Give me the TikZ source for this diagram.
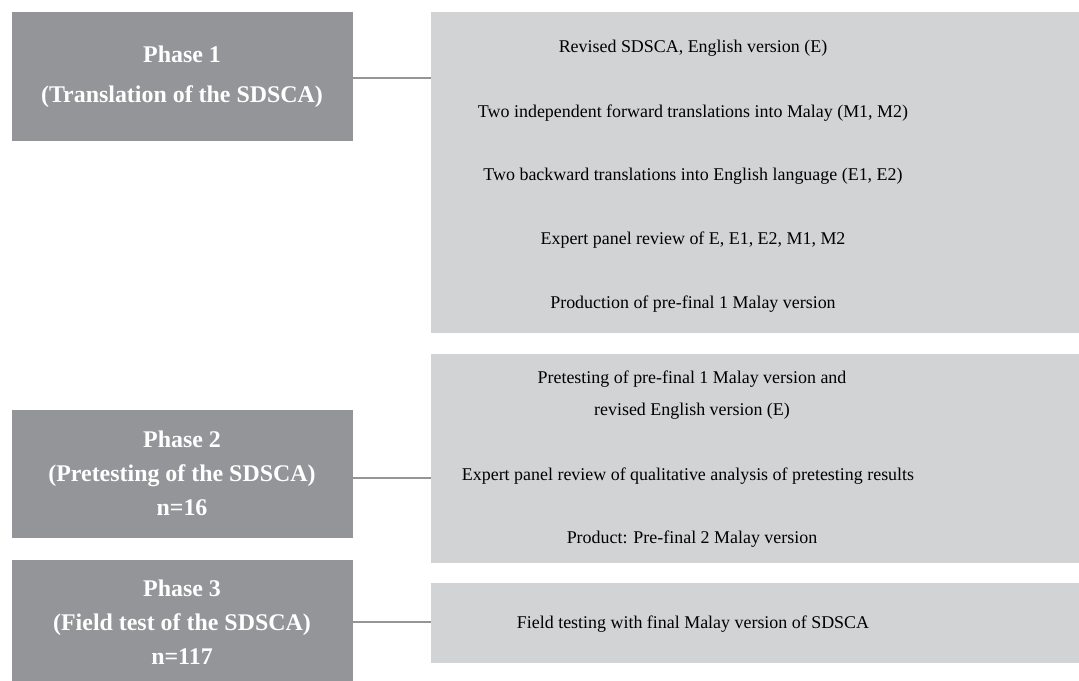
\documentclass[tikz,border=0pt]{standalone}
\usepackage{fontspec}
\setmainfont{Liberation Serif}
\definecolor{darkbox}{HTML}{939598}
\definecolor{lightbox}{HTML}{D1D3D4}
\definecolor{linkgray}{HTML}{939598}
\begin{document}
\begin{tikzpicture}[x=1bp,y=-1bp,
  phasebox/.style={fill=darkbox,draw=none,inner sep=0pt,anchor=north west},
  stepbox/.style={fill=lightbox,draw=none,inner sep=0pt,anchor=north west},
  phasetext/.style={text=white,font=\fontsize{24}{28}\selectfont\bfseries,anchor=mid,inner sep=0pt},
  steptext/.style={text=black,font=\fontsize{18}{22}\selectfont,anchor=mid,inner sep=0pt},
  link/.style={draw=linkgray,line width=2.8bp}]
\useasboundingbox (0,0) rectangle (1079,681);
% boxes
\node[phasebox,minimum width=341bp,minimum height=129bp] (d1) at (12,12) {};
\node[stepbox,minimum width=648bp,minimum height=321bp] (l1) at (431,12) {};
\node[phasebox,minimum width=341bp,minimum height=128bp] (d2) at (12,410) {};
\node[stepbox,minimum width=648bp,minimum height=209bp] (l2) at (431,354) {};
\node[phasebox,minimum width=341bp,minimum height=121bp] (d3) at (12,560) {};
\node[stepbox,minimum width=648bp,minimum height=80bp] (l3) at (431,583) {};
% connectors
\coordinate (c1) at (353,78);
\coordinate (c2) at (353,478);
\coordinate (c3) at (353,622);
\draw[link] (c1) -- (c1 -| l1.west);
\draw[link] (c2) -- (c2 -| l2.west);
\draw[link] (c3) -- (c3 -| l3.west);
% phase texts
\node[phasetext] (p1a) at (182,60) {Phase 1};
\node[phasetext] (p1b) at (182,100) {(Translation of the SDSCA)};
\node[phasetext] (p2a) at (182,445) {Phase 2};
\node[phasetext] (p2b) at (182,479) {(Pretesting of the SDSCA)};
\node[phasetext] (p2c) at (182,513) {n=16};
\node[phasetext] (p3a) at (182,594) {Phase 3};
\node[phasetext] (p3b) at (182,628) {(Field test of the SDSCA)};
\node[phasetext] (p3c) at (182,662) {n=117};
% step texts
\node[steptext] (s1) at (693,50) {Revised SDSCA, English version (E)};
\node[steptext] (s2) at (693,115) {Two independent forward translations into Malay (M1, M2)};
\node[steptext] (s3) at (693,178) {Two backward translations into English language (E1, E2)};
\node[steptext] (s4) at (693,242) {Expert panel review of E, E1, E2, M1, M2};
\node[steptext] (s5) at (693,306) {Production of pre-final 1 Malay version};
\node[steptext] (s6) at (692,381) {Pretesting of pre-final 1 Malay version and};
\node[steptext] (s7) at (692,413) {revised English version (E)};
\node[steptext] (s8) at (688,478) {Expert panel review of qualitative analysis of pretesting results};
\node[steptext] (s9) at (692,541) {Product: Pre-final 2 Malay version};
\node[steptext] (s10) at (693,626) {Field testing with final Malay version of SDSCA};
\end{tikzpicture}
\end{document}
